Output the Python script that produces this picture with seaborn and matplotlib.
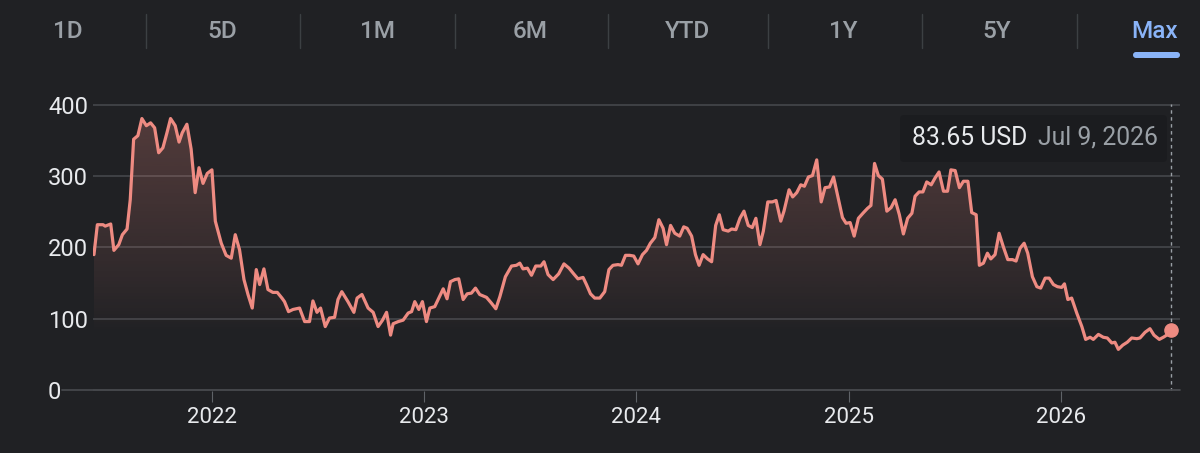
import numpy as np
import pandas as pd
import seaborn as sns
import matplotlib.pyplot as plt
import matplotlib.dates as mdates
from matplotlib.colors import to_rgb
from matplotlib.lines import Line2D
from matplotlib.patches import FancyBboxPatch

# closing prices, x given as decimal years
years = [
    2021.444, 2021.460, 2021.487, 2021.497, 2021.523, 2021.538, 2021.561, 2021.578,
    2021.600, 2021.615, 2021.631, 2021.651, 2021.670, 2021.691, 2021.711, 2021.730,
    2021.749, 2021.769, 2021.788, 2021.805, 2021.827, 2021.845, 2021.860, 2021.882,
    2021.902, 2021.921, 2021.939, 2021.958, 2021.978, 2022.000, 2022.016, 2022.044,
    2022.067, 2022.091, 2022.110, 2022.130, 2022.151, 2022.170, 2022.190, 2022.209,
    2022.225, 2022.245, 2022.264, 2022.287, 2022.308, 2022.330, 2022.342, 2022.361,
    2022.382, 2022.413, 2022.437, 2022.460, 2022.476, 2022.495, 2022.512, 2022.534,
    2022.554, 2022.578, 2022.594, 2022.612, 2022.641, 2022.669, 2022.684, 2022.707,
    2022.736, 2022.760, 2022.783, 2022.804, 2022.823, 2022.842, 2022.854, 2022.878,
    2022.901, 2022.925, 2022.941, 2022.956, 2022.975, 2022.992, 2023.011, 2023.027,
    2023.050, 2023.069, 2023.090, 2023.108, 2023.124, 2023.145, 2023.163, 2023.184,
    2023.203, 2023.223, 2023.242, 2023.262, 2023.294, 2023.317, 2023.338, 2023.357,
    2023.383, 2023.412, 2023.435, 2023.451, 2023.466, 2023.487, 2023.506, 2023.526,
    2023.550, 2023.565, 2023.584, 2023.608, 2023.634, 2023.659, 2023.683, 2023.705,
    2023.725, 2023.749, 2023.765, 2023.784, 2023.804, 2023.828, 2023.851, 2023.871,
    2023.890, 2023.914, 2023.930, 2023.949, 2023.969, 2023.988, 2024.008, 2024.029,
    2024.048, 2024.066, 2024.087, 2024.106, 2024.126, 2024.142, 2024.161, 2024.181,
    2024.204, 2024.223, 2024.239, 2024.260, 2024.278, 2024.295, 2024.314, 2024.335,
    2024.354, 2024.373, 2024.390, 2024.408, 2024.432, 2024.448, 2024.468, 2024.487,
    2024.506, 2024.526, 2024.545, 2024.562, 2024.581, 2024.597, 2024.618, 2024.639,
    2024.657, 2024.679, 2024.694, 2024.718, 2024.735, 2024.754, 2024.773, 2024.790,
    2024.809, 2024.828, 2024.848, 2024.869, 2024.887, 2024.908, 2024.927, 2024.947,
    2024.969, 2024.986, 2025.005, 2025.024, 2025.044, 2025.068, 2025.087, 2025.103,
    2025.120, 2025.138, 2025.157, 2025.178, 2025.198, 2025.217, 2025.237, 2025.256,
    2025.276, 2025.296, 2025.311, 2025.330, 2025.348, 2025.366, 2025.387, 2025.406,
    2025.424, 2025.445, 2025.464, 2025.480, 2025.500, 2025.520, 2025.539, 2025.560,
    2025.578, 2025.599, 2025.614, 2025.633, 2025.652, 2025.668, 2025.688, 2025.707,
    2025.727, 2025.748, 2025.770, 2025.787, 2025.806, 2025.825, 2025.842, 2025.864,
    2025.885, 2025.903, 2025.924, 2025.943, 2025.963, 2025.982, 2026.002, 2026.015,
    2026.031, 2026.049, 2026.073, 2026.097, 2026.115, 2026.136, 2026.151, 2026.175,
    2026.198, 2026.217, 2026.238, 2026.253, 2026.269, 2026.290, 2026.311, 2026.332,
    2026.356, 2026.371, 2026.395, 2026.418, 2026.437, 2026.462, 2026.481, 2026.497,
    2026.518,
]
prices = [
    190, 232, 232, 230, 233, 196, 204, 218,
    226, 267, 352, 357, 381, 371, 375, 368,
    333, 340, 361, 381, 371, 348, 361, 373,
    338, 277, 312, 290, 304, 309, 237, 206,
    189, 185, 218, 197, 155, 134, 115, 169,
    148, 170, 141, 137, 137, 129, 124, 110,
    113, 115, 96, 96, 125, 109, 115, 89,
    101, 102, 127, 138, 124, 109, 129, 134,
    115, 109, 89, 98, 109, 77, 93, 96,
    98, 108, 110, 124, 113, 124, 96, 115,
    117, 129, 142, 128, 152, 155, 156, 127,
    135, 136, 143, 134, 130, 122, 114, 131,
    159, 174, 175, 178, 170, 171, 161, 174,
    174, 180, 162, 155, 163, 177, 171, 163,
    156, 158, 148, 135, 129, 129, 138, 169,
    175, 176, 175, 189, 189, 188, 177, 190,
    196, 206, 214, 239, 227, 204, 231, 220,
    216, 229, 227, 216, 190, 175, 190, 184,
    180, 231, 246, 225, 223, 226, 225, 241,
    251, 231, 228, 241, 204, 223, 264, 264,
    266, 237, 251, 281, 271, 277, 288, 286,
    299, 301, 323, 264, 284, 285, 299, 272,
    242, 234, 235, 216, 241, 249, 255, 259,
    318, 301, 296, 251, 256, 267, 246, 219,
    241, 248, 272, 278, 278, 292, 288, 298,
    306, 279, 279, 309, 308, 284, 293, 293,
    249, 246, 175, 178, 192, 184, 190, 220,
    201, 183, 183, 181, 199, 206, 192, 159,
    145, 143, 157, 157, 148, 145, 144, 149,
    127, 129, 108, 89, 71, 74, 71, 78,
    74, 73, 66, 67, 57, 63, 67, 73,
    72, 73, 81, 86, 77, 71, 74, 77,
    83.65,
]

tabs = ["1D", "5D", "1M", "6M", "YTD", "1Y", "5Y", "Max"]
active_tab = "Max"
y_ticks = [0, 100, 200, 300, 400]
x_years = [2022, 2023, 2024, 2025, 2026]
currency = "USD"

BG = "#202124"
LINE = "#ee8b82"
GRID = "#45474b"
TEXT = "#e8eaed"
MUTED = "#9aa0a6"
BLUE = "#8ab4f8"
W, H = 1200, 453


def to_date(y):
    yr = int(np.floor(y))
    start = pd.Timestamp(yr, 1, 1)
    return start + (pd.Timestamp(yr + 1, 1, 1) - start) * (y - yr)


df = pd.DataFrame({"date": [to_date(y) for y in years], "price": prices})
df.loc[df.index[-1], "date"] = pd.Timestamp(2026, 7, 9)

sns.set_theme(style="dark", rc={"figure.facecolor": BG, "axes.facecolor": BG,
                                "savefig.facecolor": BG})
plt.rcParams["font.family"] = ["Roboto", "DejaVu Sans"]

fig = plt.figure(figsize=(W / 100, H / 100), dpi=100)
pix = fig.dpi_scale_trans


def P(x, y):
    # pixel position (from top-left) -> inches for dpi_scale_trans
    return x / 100, (H - y) / 100


# y: 0 at px 390, 400 at px 105 ; small margin so edge grid lines are not clipped
ax = fig.add_axes([93 / W, (H - 391.4) / H, 1087 / W, 287.8 / H])
ax.set_ylim(-2, 402)
ax.set_xlim(to_date(2021.4395), to_date(2026.5596))

# gradient fill under the line, fading out towards ~80
poly = ax.fill_between(df["date"], df["price"], 0, facecolor="none", edgecolor="none")
vals = np.linspace(0, 400, 256)
rgba = np.zeros((256, 1, 4))
rgba[..., :3] = to_rgb(LINE)
rgba[:, 0, 3] = np.clip((vals - 80) / 320, 0, 1) ** 0.85 * 0.26
xn = mdates.date2num(df["date"])
im = ax.imshow(rgba, extent=[xn.min(), xn.max(), 0, 400], origin="lower",
               aspect="auto", zorder=1)
im.set_clip_path(poly.get_paths()[0], transform=ax.transData)

sns.lineplot(data=df, x="date", y="price", color=LINE, linewidth=2.3, ax=ax, zorder=3)
last = df.iloc[-1]
ax.plot(last["date"], last["price"], "o", ms=9.5, color=LINE, zorder=4)
ax.axvline(last["date"], color=MUTED, lw=1, ls=(0, (2.5, 2.5)), zorder=2)

ax.set_yticks(y_ticks)
ax.set_yticklabels([str(v) for v in y_ticks])
ax.grid(axis="y", color=GRID, lw=1.2)
ax.grid(axis="x", visible=False)
ax.axhline(0, xmin=-31 / 1087, xmax=1, color=GRID, lw=1.3, clip_on=False, zorder=2)
for s in ax.spines.values():
    s.set_visible(False)
ax.set_xlabel("")
ax.set_ylabel("")

ax.set_xticks([pd.Timestamp(y, 1, 1) for y in x_years])
ax.set_xticklabels([str(y) for y in x_years])
ax.tick_params(axis="x", length=8, width=0.8, color="#5f6368", pad=3,
               labelsize=16, labelcolor=TEXT, bottom=True)
ax.tick_params(axis="y", length=0, pad=32.4, labelsize=17, labelcolor=TEXT)
for lab in ax.get_yticklabels():
    lab.set_horizontalalignment("left")

# range tabs
tab_x = [68, 222, 377, 530, 688, 843, 997, 1155]
for name, x in zip(tabs, tab_x):
    fig.text(*P(x, 32), name, transform=pix, ha="center", va="center",
             fontsize=17.5, fontweight="medium",
             color=BLUE if name == active_tab else MUTED)
for x in [146, 300, 455, 608, 768, 922, 1077]:
    fig.add_artist(Line2D([x / 100, x / 100], [(H - 14) / 100, (H - 48) / 100],
                          transform=pix, color="#3c4043", lw=1))
fig.add_artist(FancyBboxPatch(P(1133, 58), 0.47, 0.06, transform=pix,
                              boxstyle="round,pad=0,rounding_size=0.03",
                              facecolor=BLUE, edgecolor="none"))

# tooltip for the last point
fig.add_artist(FancyBboxPatch(P(900, 162), 2.67, 0.47, transform=pix,
                              boxstyle="round,pad=0,rounding_size=0.04",
                              facecolor="#1b1c1f", edgecolor="none"))
fig.text(*P(912, 138), f"{last['price']:.2f} {currency}", transform=pix,
         ha="left", va="center", fontsize=17.8, color=TEXT)
fig.text(*P(1038, 138), f"{last['date']:%b} {last['date'].day}, {last['date']:%Y}",
         transform=pix, ha="left", va="center", fontsize=17.8, color=MUTED)

fig.savefig("out.png", dpi=100)
